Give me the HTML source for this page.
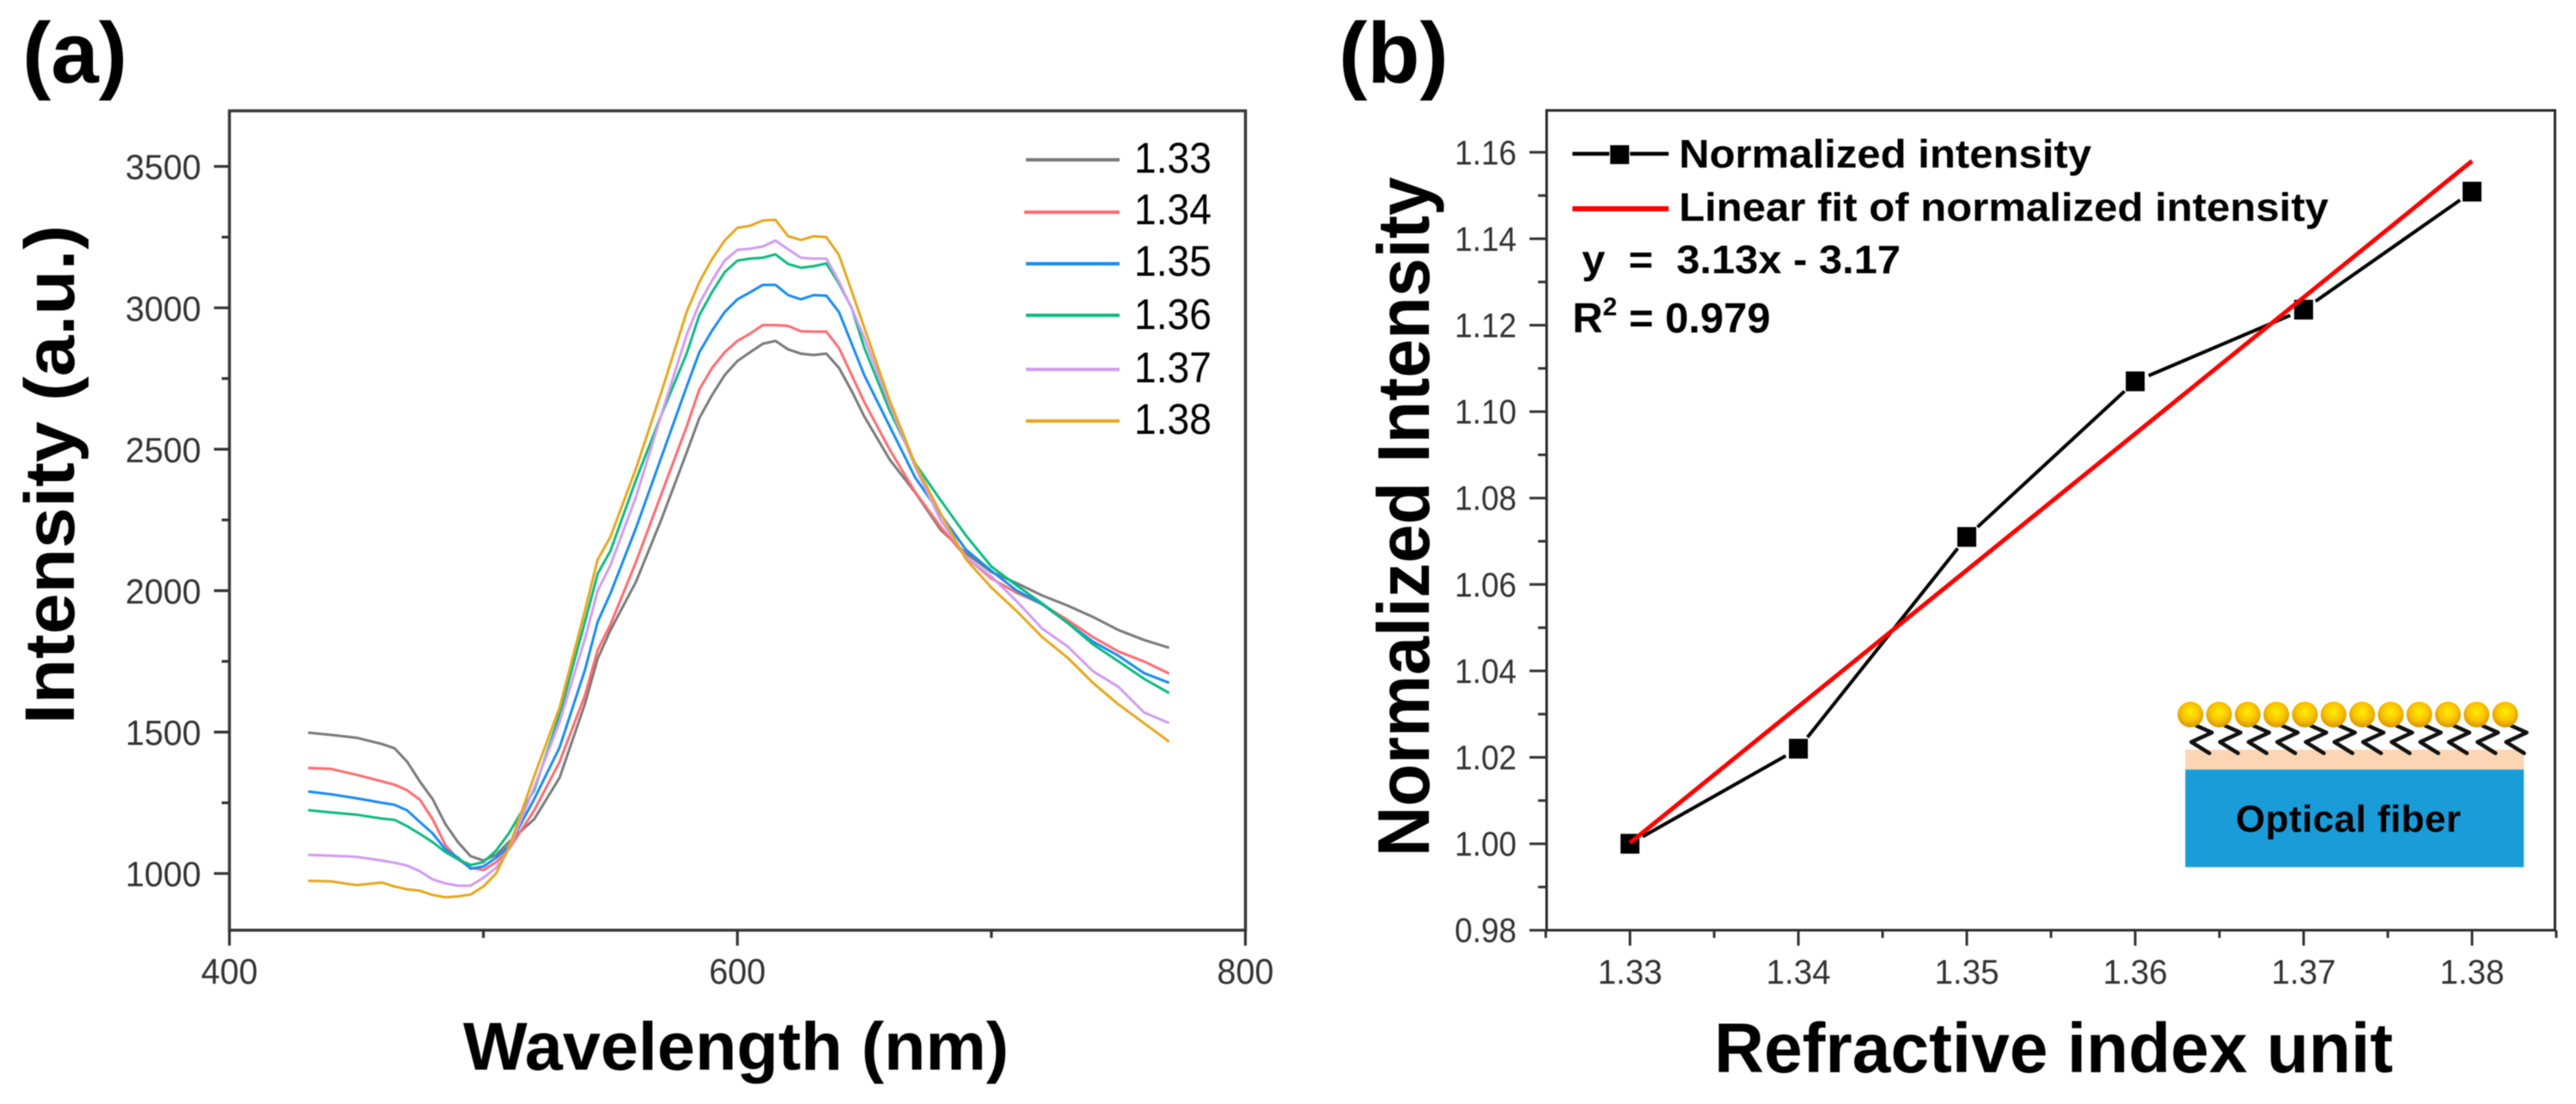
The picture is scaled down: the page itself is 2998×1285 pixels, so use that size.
<!DOCTYPE html>
<html lang="en">
<head>
<meta charset="utf-8">
<title>Intensity spectra and normalized intensity versus refractive index</title>
<style>
html,body{margin:0;padding:0;background:#fff;}
svg{display:block;font-family:"Liberation Sans",Arial,sans-serif;filter:blur(0.6px);}
.tick-label{fill:#333;}
.bold{font-weight:bold;fill:#000;}
</style>
</head>
<body>
<svg id="figure" xmlns="http://www.w3.org/2000/svg" width="2998" height="1285" viewBox="0 0 2998 1285">
<defs>
<radialGradient id="gold" cx="50%" cy="40%" r="55%">
<stop offset="0%" stop-color="#ffee00"/>
<stop offset="60%" stop-color="#fbc400"/>
<stop offset="100%" stop-color="#dc9c00"/>
</radialGradient>
</defs>
<rect x="0" y="0" width="2998" height="1285" fill="#fff"/>

<text x="26" y="96" class="bold" font-size="100">(a)</text>
<text x="1558" y="96" class="bold" font-size="100">(b)</text>

<g id="panelA">
<g id="axesA"></g>
<g id="seriesA"></g>
<text x="539" y="1245" class="bold" font-size="79" textLength="635" lengthAdjust="spacingAndGlyphs">Wavelength (nm)</text>
<text transform="translate(86,843) rotate(-90)" class="bold" font-size="82" textLength="581" lengthAdjust="spacingAndGlyphs">Intensity (a.u.)</text>
<g font-size="50" fill="#000">
<g><line x1="1194" y1="186" x2="1303" y2="186" stroke="#7a7a7a" stroke-width="4"/><text x="1320" y="201" textLength="90" lengthAdjust="spacingAndGlyphs">1.33</text></g>
<g><line x1="1192" y1="247" x2="1303" y2="247" stroke="#ff6b70" stroke-width="4"/><text x="1320" y="261" textLength="90" lengthAdjust="spacingAndGlyphs">1.34</text></g>
<g><line x1="1194" y1="307" x2="1303" y2="307" stroke="#1a8cf0" stroke-width="4"/><text x="1320" y="321" textLength="90" lengthAdjust="spacingAndGlyphs">1.35</text></g>
<g><line x1="1194" y1="367" x2="1303" y2="367" stroke="#0dbb82" stroke-width="4"/><text x="1320" y="383" textLength="90" lengthAdjust="spacingAndGlyphs">1.36</text></g>
<g><line x1="1194" y1="430" x2="1303" y2="430" stroke="#d29cf0" stroke-width="4"/><text x="1320" y="445" textLength="90" lengthAdjust="spacingAndGlyphs">1.37</text></g>
<g><line x1="1194" y1="490" x2="1303" y2="490" stroke="#e6a820" stroke-width="4"/><text x="1320" y="505" textLength="90" lengthAdjust="spacingAndGlyphs">1.38</text></g>
</g>
</g>

<g id="panelB">
<g id="axesB"></g>
<g id="seriesB"></g>
<text x="1995" y="1248" class="bold" font-size="82" textLength="790" lengthAdjust="spacingAndGlyphs">Refractive index unit</text>
<text transform="translate(1663,997) rotate(-90)" class="bold" font-size="85" textLength="791" lengthAdjust="spacingAndGlyphs">Normalized Intensity</text>
<g>
<g>
<line x1="1830" y1="179" x2="1873" y2="179" stroke="#000" stroke-width="4.5"/>
<line x1="1897" y1="179" x2="1942" y2="179" stroke="#000" stroke-width="4.5"/>
<rect x="1874" y="169" width="22" height="22" fill="#000"/>
<text x="1954" y="195" class="bold" font-size="46" textLength="480" lengthAdjust="spacingAndGlyphs">Normalized intensity</text>
</g>
<g>
<line x1="1830" y1="243" x2="1942" y2="243" stroke="#f00" stroke-width="6"/>
<text x="1954" y="257" class="bold" font-size="46" textLength="756" lengthAdjust="spacingAndGlyphs">Linear fit of normalized intensity</text>
</g>
<text x="1841" y="318" class="bold" font-size="46" textLength="371" lengthAdjust="spacingAndGlyphs" xml:space="preserve">y  =  3.13x - 3.17</text>
<text x="1830" y="387" class="bold" font-size="49">R<tspan font-size="30" dy="-20">2</tspan><tspan dy="20"> = 0.979</tspan></text>
</g>
<g id="inset">
<rect x="2543.3" y="872.7" width="394" height="23" fill="#fcd5b4"/>
<rect x="2543.3" y="895.7" width="394" height="113.6" fill="#1a9cd8"/>
<g id="insetBeads"></g>
<text x="2602" y="968" class="bold" font-size="44" textLength="262" lengthAdjust="spacing">Optical fiber</text>
</g>
</g>
</svg>

<script>
// Panel (a) data
const wavelengths = [431,440,450,460,465,470,475,480,485,490,495,500,505,510,520,530,540,545,550,560,570,580,585,590,595,600,605,610,615,620,625,630,635,640,645,650,660,670,680,690,700,710,720,730,740,750,760,770];
const intensity133 = [1498,1490,1480,1458,1443,1395,1325,1263,1175,1111,1061,1046,1066,1111,1192,1339,1600,1760,1860,2030,2250,2488,2610,2691,2762,2812,2843,2873,2883,2853,2838,2833,2838,2788,2706,2615,2463,2347,2215,2132,2066,2026,1983,1947,1907,1861,1826,1798];
const intensity134 = [1373,1370,1349,1326,1314,1294,1261,1192,1101,1050,1020,1012,1040,1086,1223,1395,1630,1790,1880,2100,2340,2580,2711,2787,2843,2883,2909,2939,2939,2936,2917,2916,2916,2858,2762,2666,2498,2349,2225,2119,2043,1992,1952,1896,1836,1785,1750,1707];
const intensity135 = [1290,1280,1266,1250,1243,1223,1182,1142,1086,1056,1017,1025,1056,1096,1263,1446,1720,1890,1990,2220,2470,2721,2843,2919,2985,3030,3055,3081,3081,3045,3030,3045,3043,2985,2873,2761,2580,2400,2270,2145,2070,2000,1952,1886,1820,1770,1709,1674];
const intensity136 = [1224,1216,1208,1194,1190,1167,1140,1111,1076,1050,1030,1040,1081,1142,1294,1562,1890,2060,2140,2390,2620,2838,2974,3055,3126,3167,3174,3177,3189,3155,3142,3147,3157,3086,3000,2858,2635,2450,2320,2195,2085,2018,1955,1886,1810,1750,1689,1638];
const intensity137 = [1066,1063,1059,1046,1038,1028,1008,979,965,957,957,985,1020,1086,1304,1537,1830,2000,2090,2330,2620,2904,3015,3096,3167,3205,3209,3217,3238,3207,3177,3174,3174,3093,2998,2893,2655,2438,2250,2120,2050,1962,1866,1803,1715,1660,1570,1532];
const intensity138 = [974,972,959,968,954,944,939,924,916,919,926,954,1000,1091,1344,1587,1930,2110,2190,2430,2700,2985,3091,3172,3238,3283,3290,3309,3311,3253,3240,3253,3250,3187,3059,2929,2671,2448,2273,2111,2011,1927,1836,1763,1674,1598,1532,1466];
const xTicksA = [400,500,600,700,800];
const xTickLabelsA = ["400","","600","","800"];
const yTicksA = [1000,1500,2000,2500,3000,3500];
const yTickLabelsA = ["1000","1500","2000","2500","3000","3500"];
const yMinorTicksA = [1250,1750,2250,2750,3250];

// Panel (b) data
const refractiveIndex = [1.33,1.34,1.35,1.36,1.37,1.38];
const normalizedIntensity = [1.000,1.022,1.071,1.107,1.1236,1.1509];
const fitIndex = [1.33,1.38];
const fitIntensity = [1.0002,1.158];
const xTicksB = [1.33,1.34,1.35,1.36,1.37,1.38];
const xTickLabelsB = ["1.33","1.34","1.35","1.36","1.37","1.38"];
const xMinorTicksB = [1.325,1.335,1.345,1.355,1.365,1.375,1.385];
const yTicksB = [0.98,1.00,1.02,1.04,1.06,1.08,1.10,1.12,1.14,1.16];
const yTickLabelsB = ["0.98","1.00","1.02","1.04","1.06","1.08","1.10","1.12","1.14","1.16"];
const yMinorTicksB = [0.99,1.01,1.03,1.05,1.07,1.09,1.11,1.13,1.15];

// Axis functions
const xA = function (w) { return 267 + (w - 400) * 2.956; };
const yA = function (v) { return 1016.7 - (v - 1000) * 0.3292; };
const xB = function (n) { return 1897 + (n - 1.33) * 19600; };
const yB = function (v) { return 1082.7 - (v - 0.98) * 5030; };

const NS = 'http://www.w3.org/2000/svg';
function make(parent, tag, attrs) {
  const el = document.createElementNS(NS, tag);
  Object.keys(attrs).forEach(function (k) { el.setAttribute(k, attrs[k]); });
  parent.appendChild(el);
  return el;
}
function drawFrame(parent, l, t, r, b, color, width) {
  const el = make(parent, 'rect', { x: l, y: t, width: r - l, height: b - t, fill: 'none', stroke: color, 'stroke-width': width });
  
  
}
function drawTick(parent, x1, y1, x2, y2, color, width) {
  const el = make(parent, 'line', { x1: x1, y1: y1, x2: x2, y2: y2, stroke: color, 'stroke-width': width });
  
  
}
function drawLabel(parent, x, y, text, anchor, size, length) {
  const el = make(parent, 'text', { x: x, y: y, 'text-anchor': anchor, 'font-size': size, class: 'tick-label', textLength: length, lengthAdjust: 'spacingAndGlyphs' });
  el.textContent = text;
  
  
}

// Panel (a) axes
const axesA = document.getElementById('axesA');
const bottomA = 1082.7, topA = 129, leftA = 267, rightA = 1449.5;
drawFrame(axesA, leftA, topA, rightA, bottomA, '#3a3a3a', 3.5);
xTicksA.forEach(function (t, i) {
  const major = xTickLabelsA[i] !== "";
  drawTick(axesA, xA(t), bottomA, xA(t), bottomA + (major ? 18 : 9), '#333', 3.2);
  if (major) drawLabel(axesA, xA(t), 1145, xTickLabelsA[i], 'middle', 42, 66);
});
yTicksA.forEach(function (t, i) {
  drawTick(axesA, leftA, yA(t), leftA - 18, yA(t), '#333', 3.2);
  drawLabel(axesA, 234, yA(t) + 15, yTickLabelsA[i], 'end', 41, 88);
});
yMinorTicksA.forEach(function (t) {
  drawTick(axesA, leftA, yA(t), leftA - 9, yA(t), '#333', 3.2);
});

// Panel (a) series
const seriesA = document.getElementById('seriesA');
function drawSpectrum(values, color) {
  const pts = values.map(function (v, i) { return xA(wavelengths[i]).toFixed(1) + ',' + yA(v).toFixed(1); }).join(' ');
  return make(seriesA, 'polyline', { points: pts, fill: 'none', stroke: color, 'stroke-width': 3, 'stroke-linejoin': 'round' });
}
const line133 = drawSpectrum(intensity133, '#7a7a7a');


const line134 = drawSpectrum(intensity134, '#ff6b70');


const line135 = drawSpectrum(intensity135, '#1a8cf0');


const line136 = drawSpectrum(intensity136, '#0dbb82');


const line137 = drawSpectrum(intensity137, '#d29cf0');


const line138 = drawSpectrum(intensity138, '#e6a820');



// Panel (b) axes
const axesB = document.getElementById('axesB');
const bottomB = 1082.7, topB = 128.5, leftB = 1800, rightB = 2973.5;
drawFrame(axesB, leftB, topB, rightB, bottomB, '#2a2a2a', 3);
xTicksB.forEach(function (t, i) {
  drawTick(axesB, xB(t), bottomB, xB(t), bottomB + 18, '#333', 3);
  drawLabel(axesB, xB(t), 1145, xTickLabelsB[i], 'middle', 40, 75);
});
xMinorTicksB.forEach(function (t) {
  drawTick(axesB, xB(t), bottomB, xB(t), bottomB + 9, '#333', 3);
});
yTicksB.forEach(function (t, i) {
  drawTick(axesB, leftB, yB(t), leftB - 20, yB(t), '#333', 3);
  drawLabel(axesB, 1765, yB(t) + 14, yTickLabelsB[i], 'end', 40, 72);
});
yMinorTicksB.forEach(function (t) {
  drawTick(axesB, leftB, yB(t), leftB - 10, yB(t), '#333', 3);
});

// Panel (b) series
const seriesB = document.getElementById('seriesB');
const gap = 17;
refractiveIndex.slice(1).forEach(function (n, i) {
  const x0 = xB(refractiveIndex[i]), y0 = yB(normalizedIntensity[i]);
  const x1 = xB(n), y1 = yB(normalizedIntensity[i + 1]);
  const len = Math.hypot(x1 - x0, y1 - y0);
  const ux = (x1 - x0) / len, uy = (y1 - y0) / len;
  const seg = make(seriesB, 'line', { x1: x0 + ux * gap, y1: y0 + uy * gap, x2: x1 - ux * gap, y2: y1 - uy * gap, stroke: '#000', 'stroke-width': 4 });
  
  
});
refractiveIndex.forEach(function (n, i) {
  const m = make(seriesB, 'rect', { x: xB(n) - 11, y: yB(normalizedIntensity[i]) - 11.5, width: 22, height: 23, fill: '#000' });
  
  
});
const fitLine = make(seriesB, 'line', { x1: xB(fitIndex[0]), y1: yB(fitIntensity[0]), x2: xB(fitIndex[1]), y2: yB(fitIntensity[1]), stroke: '#f00', 'stroke-width': 5 });



// Inset decoration
const beads = document.getElementById('insetBeads');
for (let i = 0; i < 12; i++) {
  const cx = 2549.3 + 33.3 * i, cy = 831.7;
  const chain = make(beads, 'polyline', { points: (cx + 7) + ',' + (cy + 13) + ' ' + (cx + 25) + ',' + (cy + 21) + ' ' + (cx + 1) + ',' + (cy + 32) + ' ' + (cx + 22) + ',' + (cy + 45), fill: 'none', stroke: '#111', 'stroke-width': 4.5, 'stroke-linecap': 'round', 'stroke-linejoin': 'round' });
  
  
  const bead = make(beads, 'circle', { cx: cx, cy: cy, r: 15, fill: 'url(#gold)' });
  
  
}
</script>
</body>
</html>
